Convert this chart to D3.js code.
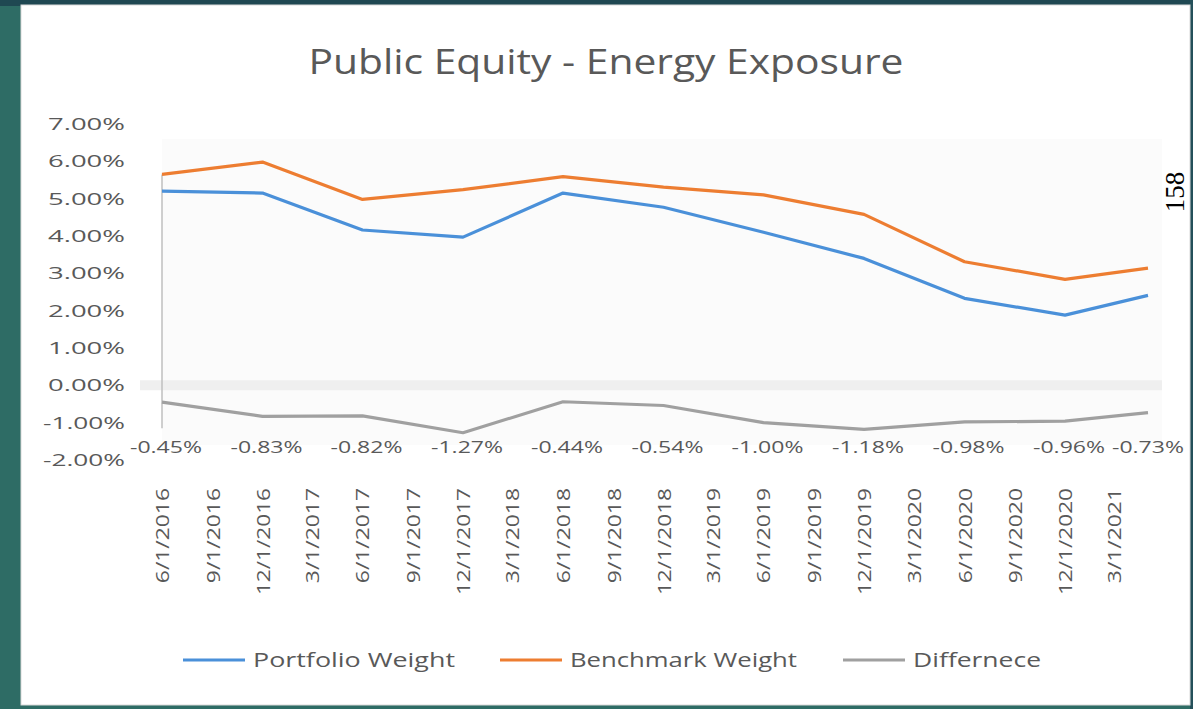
<!DOCTYPE html>
<html>
<head>
<meta charset="utf-8">
<script src="https://cdn.jsdelivr.net/npm/d3@7"></script>
<style>
  body { margin: 0; background: #2e6c65; }
  svg { display: block; }
</style>
</head>
<body>
<div id="container"></div>
<script>
// chart data
const dates = ["6/1/2016", "12/1/2016", "6/1/2017", "12/1/2017", "6/1/2018", "12/1/2018",
               "6/1/2019", "12/1/2019", "6/1/2020", "12/1/2020", "5/1/2021"];
const portfolio = [5.20, 5.15, 4.16, 3.97, 5.15, 4.77, 4.10, 3.40, 2.33, 1.88, 2.41];
const benchmark = [5.65, 5.98, 4.98, 5.24, 5.59, 5.31, 5.10, 4.58, 3.31, 2.84, 3.14];
const difference = [-0.45, -0.83, -0.82, -1.27, -0.44, -0.54, -1.00, -1.18, -0.98, -0.96, -0.73];
const tickDates = ["6/1/2016", "9/1/2016", "12/1/2016", "3/1/2017", "6/1/2017", "9/1/2017",
                   "12/1/2017", "3/1/2018", "6/1/2018", "9/1/2018", "12/1/2018", "3/1/2019",
                   "6/1/2019", "9/1/2019", "12/1/2019", "3/1/2020", "6/1/2020", "9/1/2020",
                   "12/1/2020", "3/1/2021"];
const yTicks = [7, 6, 5, 4, 3, 2, 1, 0, -1, -2];
const seriesNames = ["Portfolio Weight", "Benchmark Weight", "Differnece"];
const seriesColors = ["#4a90d9", "#ed7d31", "#a0a0a0"];

const w = 1193, h = 709;
const parse = d3.timeParse("%m/%d/%Y");

const svg = d3.select("#container").append("svg")
  .attr("width", w).attr("height", h);

// slide background
svg.append("rect").attr("x", 0).attr("y", 0).attr("width", w).attr("height", 6).attr("fill", "#1f4852");
svg.append("rect").attr("x", 1190).attr("y", 0).attr("width", 3).attr("height", h).attr("fill", "#24505a");
// white chart panel
svg.append("rect").attr("x", 21).attr("y", 5).attr("width", 1169).attr("height", 700)
  .attr("fill", "#ffffff").attr("stroke", "#d9d9d9").attr("stroke-width", 1);

const x = d3.scaleTime()
  .domain([parse("6/1/2016"), parse("5/1/2021")])
  .range([162, 1148]);
const y = d3.scaleLinear().domain([-2, 7]).range([460, 124]);

const font = "'Open Sans', 'DejaVu Sans', sans-serif";
const grey = "#595959";

// plot area tint
svg.append("rect").attr("x", 162).attr("y", y(6.6)).attr("width", 1000).attr("height", y(-1.6) - y(6.6))
  .attr("fill", "#fbfbfb");

// zero band
svg.append("line").attr("x1", 140).attr("x2", 1162).attr("y1", y(0)).attr("y2", y(0))
  .attr("stroke", "#efefef").attr("stroke-width", 10);

// vertical axis line
svg.append("line").attr("x1", x(parse(dates[0]))).attr("x2", x(parse(dates[0])))
  .attr("y1", y(benchmark[0])).attr("y2", y(-1.15))
  .attr("stroke", "#bfbfbf").attr("stroke-width", 1.5);

// title
svg.append("text").attr("x", 606).attr("y", 74).attr("text-anchor", "middle")
  .attr("font-family", font).attr("font-size", 34).attr("fill", grey)
  .attr("textLength", 595).attr("lengthAdjust", "spacingAndGlyphs")
  .text("Public Equity - Energy Exposure");

// y tick labels
svg.append("g").selectAll("text").data(yTicks).enter().append("text")
  .attr("x", 125).attr("y", d => y(d)).attr("dy", "0.35em")
  .attr("text-anchor", "end").attr("font-family", font).attr("font-size", 17).attr("fill", grey)
  .attr("textLength", d => d < 0 ? 82 : 77).attr("lengthAdjust", "spacingAndGlyphs")
  .text(d => d.toFixed(2) + "%");

// x tick labels (rotated)
svg.append("g").selectAll("text").data(tickDates).enter().append("text")
  .attr("transform", d => "translate(" + (x(parse(d)) + 7) + ",488) rotate(-90)")
  .attr("text-anchor", "end").attr("font-family", font).attr("font-size", 17.5).attr("fill", grey)
  .attr("textLength", d => d.length * 11.9).attr("lengthAdjust", "spacingAndGlyphs")
  .text(d => d);

// lines
const series = [portfolio, benchmark, difference];
const line = d3.line().x((d, i) => x(parse(dates[i]))).y(d => y(d));
series.forEach((s, k) => {
  svg.append("path").datum(s)
    .attr("fill", "none").attr("stroke", seriesColors[k]).attr("stroke-width", 3.2)
    .attr("stroke-linejoin", "round")
    .attr("d", line);
});

// difference labels
svg.append("g").selectAll("text").data(difference).enter().append("text")
  .attr("x", (d, i) => x(parse(dates[i])) + (i === dates.length - 1 ? 0 : 4))
  .attr("y", y(-1.65)).attr("dy", "0.35em")
  .attr("text-anchor", "middle").attr("font-family", font).attr("font-size", 17).attr("fill", grey)
  .attr("textLength", 72).attr("lengthAdjust", "spacingAndGlyphs")
  .text(d => d.toFixed(2) + "%");

// legend
const legendX = [183, 500, 843];
const legendLen = [202, 227, 128];
const leg = svg.append("g").selectAll("g").data(seriesNames).enter().append("g")
  .attr("transform", (d, i) => "translate(" + legendX[i] + ",660)");
leg.append("line").attr("x1", 0).attr("x2", 62).attr("y1", 0).attr("y2", 0)
  .attr("stroke", (d, i) => seriesColors[i]).attr("stroke-width", 3.2);
leg.append("text").attr("x", 70).attr("y", 0).attr("dy", "0.35em")
  .attr("font-family", font).attr("font-size", 19.5).attr("fill", grey)
  .attr("textLength", (d, i) => legendLen[i]).attr("lengthAdjust", "spacingAndGlyphs")
  .text(d => d);

// page number
svg.append("text").attr("transform", "translate(1184,192) rotate(-90)")
  .attr("text-anchor", "middle").attr("font-family", "'Liberation Serif', serif")
  .attr("font-size", 27).attr("fill", "#000").text("158");
</script>
</body>
</html>
